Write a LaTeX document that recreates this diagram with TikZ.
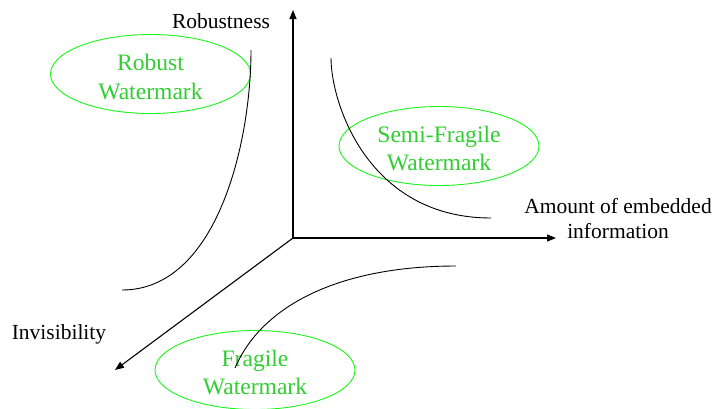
\documentclass[tikz,border=0pt]{standalone}
\usepackage{fontspec}
\setmainfont{Liberation Serif}
\usetikzlibrary{arrows.meta,shapes.geometric}
\definecolor{ringgreen}{RGB}{25,245,25}
\definecolor{labelgreen}{RGB}{50,205,50}
\tikzset{
  axis/.style={line width=1.1pt,-{Triangle[length=9pt,width=7pt]}},
  curve/.style={line width=0.9pt},
  region/.style={ellipse,draw=ringgreen,line width=0.9pt,
    minimum width=200pt,minimum height=79pt,inner sep=0pt},
  regiontext/.style={text=labelgreen,align=center,inner sep=0pt,
    font=\fontsize{23.6}{28.5}\selectfont},
  axislabel/.style={align=center,font=\fontsize{21.5}{25}\selectfont,inner sep=0pt}
}
\begin{document}
\begin{tikzpicture}[x=1pt,y=-1pt]
\useasboundingbox (0,0) rectangle (714,408);
\coordinate (O) at (293,238);
\coordinate (Ytip) at (293,10);
\coordinate (Xtip) at (556,238);
\coordinate (Ztip) at (115,370);
\draw[axis] (O) -- (Ytip);
\draw[axis] (O) -- (Xtip);
\draw[axis] (O) -- (Ztip);
\node[axislabel] (ylab) at (221,21) {Robustness};
\node[axislabel] (xlab) at (618,218.5) {Amount of embedded\\information};
\node[axislabel] (zlab) at (59,334.5) {Invisibility};
\node[region] (robust) at (150.5,74) {};
\node[regiontext] (robusttext) at ([yshift=-3pt]robust.center) {Robust\\Watermark};
\node[region] (semi) at (439,146) {};
\node[regiontext] (semitext) at ([yshift=-2.5pt]semi.center) {Semi-Fragile\\Watermark};
\node[region] (fragile) at (255,370) {};
\node[regiontext] (fragiletext) at ([yshift=-2.5pt]fragile.center) {Fragile\\Watermark};
\coordinate (r1) at (251,50);
\coordinate (r2) at (122,290);
\coordinate (s1) at (331,58);
\coordinate (s2) at (491,218);
\coordinate (f1) at (235,368);
\coordinate (f2) at (456,266);
\draw[curve] (r1) .. controls (251,143) and (217,290) .. (r2);
\draw[curve] (s1) .. controls (331,103) and (368,218) .. (s2);
\draw[curve] (f1) .. controls (262,305) and (340,266) .. (f2);
\end{tikzpicture}
\end{document}
